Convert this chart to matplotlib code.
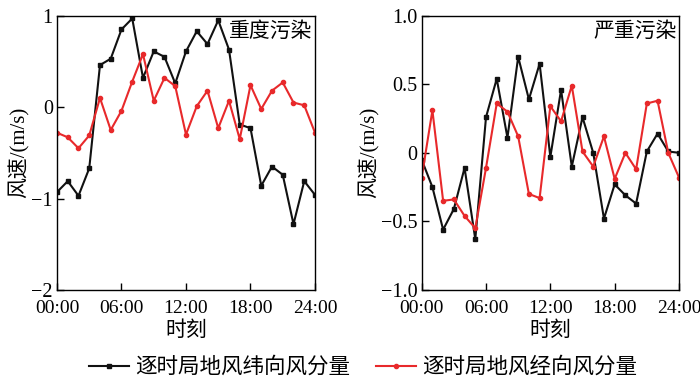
import matplotlib
matplotlib.use("Agg")
import matplotlib.pyplot as plt

plt.rcParams['font.family'] = ['Liberation Serif', 'Noto Sans CJK SC']
plt.rcParams['axes.unicode_minus'] = True

# 每小时 0-24 时
hours = list(range(25))
xtick_pos = [0, 6, 12, 18, 24]
xtick_labels = ["00:00", "06:00", "12:00", "18:00", "24:00"]

# 重度污染
heavy_u = [-0.93, -0.81, -0.97, -0.67, 0.46, 0.53, 0.85, 0.97, 0.32, 0.61, 0.55, 0.26, 0.61,
           0.83, 0.69, 0.95, 0.63, -0.19, -0.23, -0.86, -0.65, -0.74, -1.28, -0.81, -0.96]
heavy_v = [-0.28, -0.33, -0.45, -0.31, 0.10, -0.25, -0.04, 0.28, 0.58, 0.07, 0.32, 0.23, -0.30,
           0.01, 0.18, -0.23, 0.07, -0.35, 0.24, -0.02, 0.18, 0.27, 0.05, 0.02, -0.28]

# 严重污染
severe_u = [-0.05, -0.25, -0.56, -0.41, -0.11, -0.63, 0.26, 0.54, 0.11, 0.70, 0.39, 0.65, -0.03,
            0.46, -0.10, 0.26, 0.00, -0.48, -0.23, -0.31, -0.37, 0.01, 0.14, 0.01, 0.00]
severe_v = [-0.18, 0.31, -0.35, -0.34, -0.46, -0.55, -0.11, 0.36, 0.30, 0.12, -0.30, -0.33, 0.34,
            0.23, 0.49, 0.01, -0.10, 0.12, -0.19, 0.00, -0.12, 0.36, 0.38, 0.00, -0.18]

u_label = "逐时局地风纬向风分量"
v_label = "逐时局地风经向风分量"
red = "#e8292b"
black = "#111111"

fig = plt.figure(figsize=(7, 3.84), dpi=100)
ax1 = fig.add_axes([0.0814, 0.245, 0.3686, 0.714])
ax2 = fig.add_axes([0.6024, 0.245, 0.3676, 0.714])


def draw(ax, u, v, title, ylim, yticks, yticklabels):
    ax.plot(hours, u, color=black, lw=1.5, marker="s", ms=3, label=u_label)
    ax.plot(hours, v, color=red, lw=1.5, marker="o", ms=3, label=v_label)
    ax.set_xlim(0, 24)
    ax.set_ylim(*ylim)
    ax.set_xticks(xtick_pos)
    ax.set_xticklabels(xtick_labels)
    ax.set_yticks(yticks)
    ax.set_yticklabels(yticklabels)
    ax.tick_params(direction="in", length=5, width=1)
    ax.tick_params(axis="x", labelsize=14, pad=7.5)
    ax.tick_params(axis="y", labelsize=14.5, pad=3)
    ax.set_xlabel("时刻", fontsize=15, labelpad=3)
    ax.set_ylabel("风速/(m/s)", fontsize=15, labelpad=1)
    for s in ax.spines.values():
        s.set_linewidth(1.0)
    ax.text(0.99, 0.975, title, transform=ax.transAxes, ha="right", va="top", fontsize=15)


draw(ax1, heavy_u, heavy_v, "重度污染", (-2, 1), [-2, -1, 0, 1],
     ["\u22122", "\u22121", "0", "1"])
draw(ax2, severe_u, severe_v, "严重污染", (-1, 1), [-1, -0.5, 0, 0.5, 1],
     ["\u22121.0", "\u22120.5", "0", "0.5", "1.0"])

h, l = ax1.get_legend_handles_labels()
fig.legend(h, l, loc="center", bbox_to_anchor=(0.519, 0.042), ncol=2, frameon=False,
           fontsize=15.5, handlelength=1.85, columnspacing=1.2, handletextpad=0.3,
           borderpad=0, borderaxespad=0)

fig.savefig("out.png", dpi=100)
